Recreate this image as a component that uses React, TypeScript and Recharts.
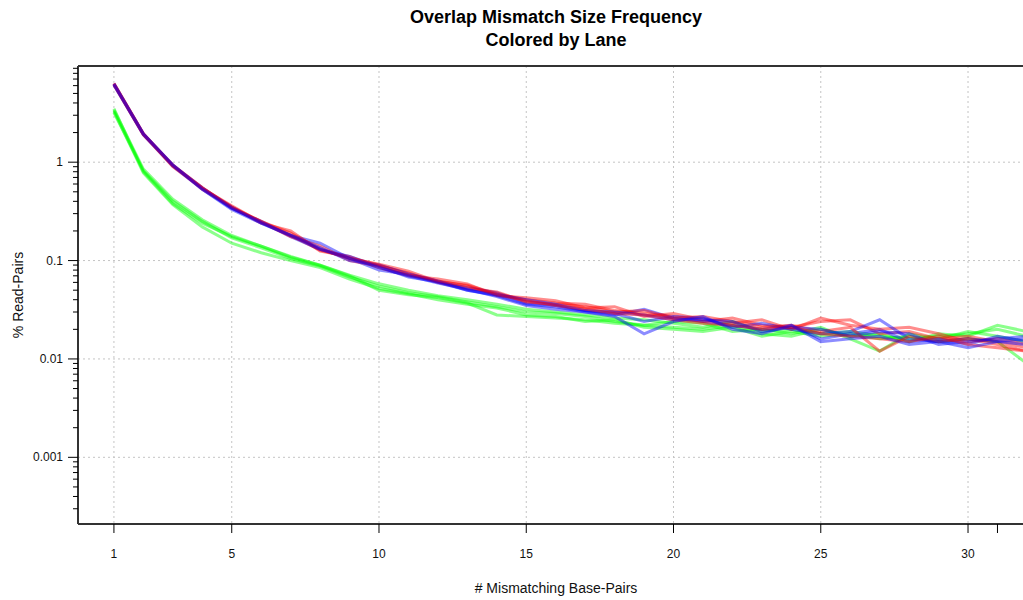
import React from 'react';
import { LineChart, Line, XAxis, YAxis, CartesianGrid, ReferenceLine } from 'recharts';

const mismatches = [1, 2, 3, 4, 5, 6, 7, 8, 9, 10, 11, 12, 13, 14, 15, 16, 17, 18, 19, 20, 21, 22, 23, 24, 25, 26, 27, 28, 29, 30, 31, 32];

const red1 = [6.3, 1.95, 0.92, 0.55, 0.34, 0.25, 0.19, 0.13, 0.105, 0.092, 0.078, 0.061, 0.056, 0.046, 0.040, 0.037, 0.036, 0.031, 0.029, 0.027, 0.024, 0.026, 0.022, 0.021, 0.024, 0.025, 0.018, 0.019, 0.016, 0.017, 0.015, 0.013];
const red2 = [6.1, 1.9, 0.94, 0.53, 0.35, 0.24, 0.2, 0.125, 0.11, 0.085, 0.07, 0.065, 0.058, 0.044, 0.042, 0.039, 0.033, 0.034, 0.027, 0.029, 0.025, 0.023, 0.025, 0.02, 0.026, 0.022, 0.02, 0.021, 0.018, 0.015, 0.016, 0.014];
const red3 = [6.2, 1.92, 0.9, 0.54, 0.36, 0.245, 0.175, 0.14, 0.1, 0.088, 0.075, 0.06, 0.052, 0.048, 0.038, 0.036, 0.034, 0.03, 0.031, 0.026, 0.027, 0.024, 0.021, 0.022, 0.019, 0.021, 0.012, 0.017, 0.015, 0.016, 0.014, 0.012];
const red4 = [6.3, 1.94, 0.93, 0.55, 0.35, 0.25, 0.18, 0.128, 0.107, 0.09, 0.072, 0.062, 0.055, 0.045, 0.039, 0.035, 0.032, 0.029, 0.028, 0.025, 0.023, 0.022, 0.02, 0.021, 0.018, 0.017, 0.016, 0.015, 0.017, 0.014, 0.013, 0.012];

const blue1 = [6.2, 1.9, 0.91, 0.53, 0.33, 0.24, 0.18, 0.15, 0.105, 0.08, 0.072, 0.06, 0.05, 0.044, 0.036, 0.034, 0.03, 0.028, 0.032, 0.026, 0.024, 0.022, 0.02, 0.022, 0.016, 0.018, 0.02, 0.015, 0.016, 0.014, 0.017, 0.015];
const blue2 = [6.1, 1.92, 0.93, 0.55, 0.34, 0.25, 0.175, 0.13, 0.11, 0.087, 0.068, 0.061, 0.053, 0.047, 0.037, 0.035, 0.031, 0.029, 0.024, 0.027, 0.026, 0.021, 0.023, 0.02, 0.018, 0.019, 0.025, 0.016, 0.015, 0.016, 0.015, 0.014];
const blue3 = [6.3, 1.95, 0.92, 0.54, 0.35, 0.24, 0.18, 0.135, 0.1, 0.09, 0.073, 0.062, 0.05, 0.045, 0.04, 0.036, 0.031, 0.03, 0.028, 0.025, 0.025, 0.024, 0.019, 0.021, 0.02, 0.017, 0.019, 0.018, 0.014, 0.015, 0.016, 0.017];
const blue4 = [6.2, 1.93, 0.94, 0.53, 0.34, 0.245, 0.18, 0.13, 0.106, 0.085, 0.07, 0.059, 0.051, 0.043, 0.035, 0.032, 0.03, 0.027, 0.018, 0.024, 0.027, 0.02, 0.018, 0.022, 0.015, 0.016, 0.017, 0.014, 0.015, 0.013, 0.015, 0.016];

const green1 = [3.4, 0.85, 0.42, 0.26, 0.18, 0.14, 0.11, 0.09, 0.071, 0.058, 0.05, 0.044, 0.04, 0.036, 0.032, 0.03, 0.028, 0.026, 0.025, 0.023, 0.021, 0.024, 0.019, 0.02, 0.018, 0.019, 0.017, 0.016, 0.017, 0.018, 0.02, 0.017];
const green2 = [3.2, 0.82, 0.40, 0.25, 0.17, 0.135, 0.105, 0.088, 0.068, 0.055, 0.047, 0.043, 0.038, 0.034, 0.03, 0.029, 0.027, 0.024, 0.022, 0.024, 0.023, 0.019, 0.02, 0.018, 0.021, 0.016, 0.012, 0.018, 0.016, 0.019, 0.017, 0.015];
const green3 = [3.5, 0.8, 0.38, 0.24, 0.175, 0.14, 0.108, 0.09, 0.07, 0.05, 0.045, 0.042, 0.037, 0.028, 0.027, 0.026, 0.025, 0.023, 0.022, 0.021, 0.02, 0.022, 0.018, 0.017, 0.02, 0.017, 0.018, 0.015, 0.018, 0.017, 0.022, 0.019];
const green4 = [3.3, 0.78, 0.37, 0.22, 0.15, 0.12, 0.1, 0.085, 0.065, 0.052, 0.046, 0.04, 0.036, 0.033, 0.028, 0.027, 0.024, 0.025, 0.021, 0.02, 0.019, 0.021, 0.017, 0.019, 0.017, 0.018, 0.016, 0.017, 0.015, 0.016, 0.015, 0.009];

const xTicks = [1, 5, 10, 15, 20, 25, 30, 31];
const xLabels = ['1', '5', '10', '15', '20', '25', '30', ''];
const yTicks = [
  0.0003, 0.0004, 0.0005, 0.0006, 0.0007, 0.0008, 0.0009,
  0.001, 0.002, 0.003, 0.004, 0.005, 0.006, 0.007, 0.008, 0.009,
  0.01, 0.02, 0.03, 0.04, 0.05, 0.06, 0.07, 0.08, 0.09,
  0.1, 0.2, 0.3, 0.4, 0.5, 0.6, 0.7, 0.8, 0.9,
  1, 2, 3, 4, 5, 6, 7, 8, 9,
];
const yMajor = [0.001, 0.01, 0.1, 1];
const yLabels = ['0.001', '0.01', '0.1', '1'];
const xGrid = [1, 5, 10, 15, 20, 25, 30];

const series = [
  { key: 'g1', color: '#00ff00', values: green1 },
  { key: 'g2', color: '#00ff00', values: green2 },
  { key: 'g3', color: '#00ff00', values: green3 },
  { key: 'g4', color: '#00ff00', values: green4 },
  { key: 'r1', color: '#ff0000', values: red1 },
  { key: 'b1', color: '#0000ff', values: blue1 },
  { key: 'r2', color: '#ff0000', values: red2 },
  { key: 'b2', color: '#0000ff', values: blue2 },
  { key: 'r3', color: '#ff0000', values: red3 },
  { key: 'b3', color: '#0000ff', values: blue3 },
  { key: 'r4', color: '#ff0000', values: red4 },
  { key: 'b4', color: '#0000ff', values: blue4 },
];

const data = mismatches.map((x, i) => {
  const row: Record<string, number> = { x };
  series.forEach((s) => { row[s.key] = s.values[i]; });
  return row;
});

const FONT = '"Liberation Sans", Arial, Helvetica, sans-serif';
const Y_MIN = 0.00021;
const Y_MAX = 9.5;

const YTick = (props: any) => {
  const { x, y, payload } = props;
  const v = payload.value;
  const idx = yMajor.findIndex((m) => Math.abs(m - v) / m < 1e-6);
  const major = idx >= 0;
  return (
    <g>
      <line x1={x} x2={x - (major ? 10 : 5)} y1={y} y2={y} stroke="#000" strokeWidth={1} />
      {major && (
        <text x={x - 15} y={y} textAnchor="end" dominantBaseline="central" fontSize={12} fontFamily={FONT} fill="#111">
          {yLabels[idx]}
        </text>
      )}
    </g>
  );
};

export default function App() {
  return (
    <div style={{ position: 'fixed', left: 0, top: 0, width: 1023, height: 600, overflow: 'hidden', background: '#fff' }}>
      <div style={{ position: 'absolute', left: 0, width: 1112, top: 6, textAlign: 'center', fontFamily: FONT, fontWeight: 'bold', fontSize: 18, lineHeight: '23px', color: '#000' }}>
        <div>Overlap Mismatch Size Frequency</div>
        <div>Colored by Lane</div>
      </div>
      <LineChart width={1040} height={600} data={data} margin={{ top: 66, right: 6, bottom: 0, left: 8 }}>
        <CartesianGrid
          stroke="#c4c4c4"
          strokeDasharray="2 3"
          horizontalValues={yMajor}
          verticalValues={xGrid}
        />
        <XAxis
          dataKey="x"
          type="number"
          domain={[-0.22, 32.24]}
          allowDataOverflow
          ticks={xTicks}
          tickFormatter={(v: number) => xLabels[xTicks.indexOf(v)] ?? ''}
          height={76}
          tickSize={9}
          tickMargin={16}
          axisLine={{ stroke: '#333', strokeWidth: 2 }}
          tickLine={{ stroke: '#000' }}
          tick={{ fontSize: 12, fontFamily: FONT, fill: '#111' }}
          interval={0}
          label={{ value: '# Mismatching Base-Pairs', position: 'insideBottom', offset: 7, fontSize: 14, fontFamily: FONT, fill: '#111' }}
        />
        <YAxis
          type="number"
          scale="log"
          domain={[Y_MIN, Y_MAX]}
          allowDataOverflow
          ticks={yTicks}
          interval={0}
          width={70}
          tickSize={0}
          tickMargin={0}
          tickLine={false}
          tick={<YTick />}
          axisLine={{ stroke: '#333', strokeWidth: 2 }}
          label={{ value: '% Read-Pairs', angle: -90, position: 'insideLeft', offset: 10, fontSize: 14, fontFamily: FONT, fill: '#111', style: { textAnchor: 'middle' } }}
        />
        <ReferenceLine y={Y_MAX} stroke="#333" strokeWidth={2} ifOverflow="extendDomain" />
        {series.map((s) => (
          <Line
            key={s.key}
            dataKey={s.key}
            type="linear"
            stroke={s.color}
            strokeOpacity={0.45}
            strokeWidth={3}
            dot={false}
            activeDot={false}
            isAnimationActive={false}
          />
        ))}
      </LineChart>
    </div>
  );
}
